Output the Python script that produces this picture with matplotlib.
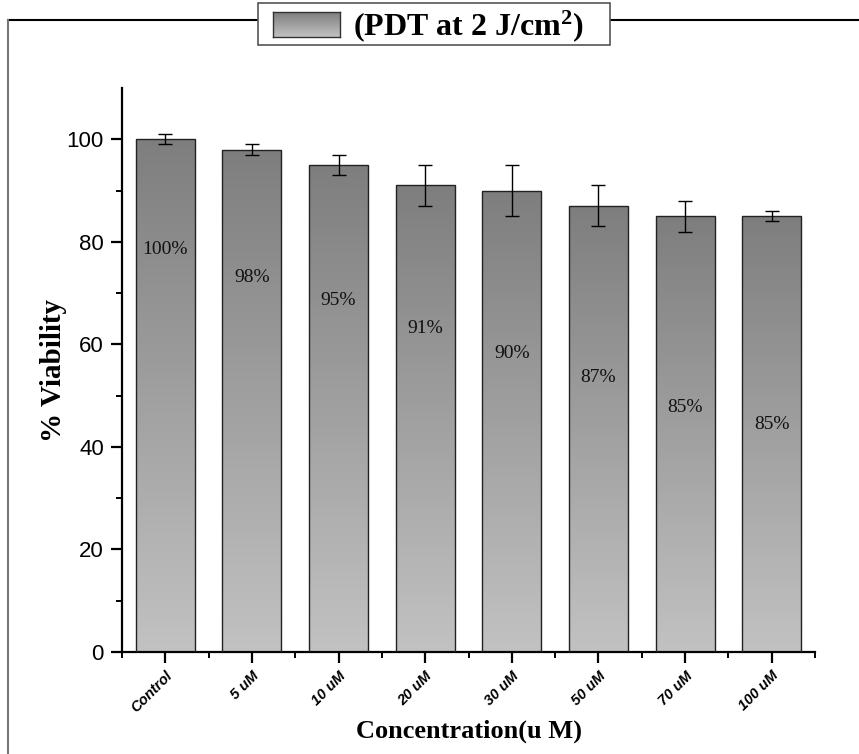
import numpy as np
import matplotlib
matplotlib.use("Agg")
import matplotlib.pyplot as plt
from matplotlib.colors import LinearSegmentedColormap
from matplotlib.lines import Line2D
from matplotlib.patches import Rectangle

plt.rcParams["mathtext.fontset"] = "custom"
plt.rcParams["mathtext.rm"] = "Liberation Serif"
plt.rcParams["mathtext.bf"] = "Liberation Serif:bold"
plt.rcParams["mathtext.it"] = "Liberation Serif:italic"

categories = ["Control", "5 uM", "10 uM", "20 uM", "30 uM", "50 uM", "70 uM", "100 uM"]
viability = [100, 98, 95, 91, 90, 87, 85, 85]
errors = [1, 1, 2, 4, 5, 4, 3, 1]
bar_labels = ["100%", "98%", "95%", "91%", "90%", "87%", "85%", "85%"]
label_y = [78.5, 73, 68.5, 63, 58.3, 53.6, 47.6, 44.4]

W, H = 859, 754
fig = plt.figure(figsize=(W / 100, H / 100), dpi=100)
ax = fig.add_axes([122 / W, 1 - 652 / H, (815 - 122) / W, (652 - 88) / H])

cmap = LinearSegmentedColormap.from_list("g", ["#c2c2c2", "#7e7e7e"])
grad = np.linspace(0, 1, 256).reshape(-1, 1)

x = np.arange(len(categories))
width = 0.68
bars = ax.bar(x, viability, width=width, color="none", edgecolor="#222222", linewidth=1.0, zorder=3)
for b in bars:
    x0, w, h = b.get_x(), b.get_width(), b.get_height()
    im = ax.imshow(grad, cmap=cmap, origin="lower", aspect="auto",
                   extent=[x0, x0 + w, 0, h], zorder=2)
    im.set_clip_path(b)

ax.errorbar(x, viability, yerr=errors, fmt="none", ecolor="black", elinewidth=1.0,
            capsize=5, capthick=1.0, zorder=4)

for xi, lab, ly in zip(x, bar_labels, label_y):
    ax.text(xi, ly, lab, ha="center", va="center", fontsize=14,
            family="Liberation Serif", color="#111111", zorder=5)

ax.set_xlim(-0.5, 7.5)
ax.set_ylim(0, 110)
ax.set_yticks([0, 20, 40, 60, 80, 100])
ax.set_yticks(np.arange(10, 110, 20), minor=True)
ax.set_xticks(x)
ax.set_xticks(np.arange(-0.5, 8, 1), minor=True)
ax.set_xticklabels(categories, rotation=45, ha="right", rotation_mode="anchor",
                   fontsize=10.5, fontweight="bold", fontstyle="italic", family="Liberation Sans")
for t in ax.get_yticklabels():
    t.set_family("Liberation Sans")
    t.set_fontsize(16)

for s in ["top", "right"]:
    ax.spines[s].set_visible(False)
for s in ["left", "bottom"]:
    ax.spines[s].set_linewidth(1.6)
ax.tick_params(axis="both", which="major", direction="out", length=8, width=1.6)
ax.tick_params(axis="both", which="minor", direction="out", length=4, width=1.4)
ax.tick_params(axis="x", which="major", pad=4)
ax.tick_params(axis="y", which="major", pad=5)

ax.set_ylabel("% Viability", fontsize=21, fontweight="bold", family="Liberation Serif", labelpad=0)
ax.set_xlabel("Concentration(u M)", fontsize=19, fontweight="bold", family="Liberation Serif", labelpad=3)

# Outer frame lines
ytop = 1 - 20 / H
fig.add_artist(Line2D([8 / W, 1], [ytop, ytop], transform=fig.transFigure, color="black", lw=1.5, zorder=1))
fig.add_artist(Line2D([8 / W, 8 / W], [ytop, 0], transform=fig.transFigure, color="#777777", lw=1.5, zorder=1))

# Legend box
lx0, lx1, ly0, ly1 = 258, 610, 3, 45
fig.add_artist(Rectangle((lx0 / W, 1 - ly1 / H), (lx1 - lx0) / W, (ly1 - ly0) / H,
                         transform=fig.transFigure, facecolor="white", edgecolor="#555555",
                         lw=1.2, zorder=5))
lax = fig.add_axes([273 / W, 1 - 37 / H, (340 - 273) / W, (37 - 12) / H], zorder=6)
lax.imshow(grad, cmap=cmap, origin="lower", aspect="auto", extent=[0, 1, 0, 1])
lax.set_xticks([])
lax.set_yticks([])
for s in lax.spines.values():
    s.set_color("#333333")
    s.set_linewidth(1.0)
fig.text(353 / W, 1 - 26 / H, r"(PDT at 2 J/cm$^{\mathbf{2}}$)", fontsize=23, fontweight="bold",
         family="Liberation Serif", va="center", ha="left", zorder=7)

fig.savefig("out.png", dpi=100)
